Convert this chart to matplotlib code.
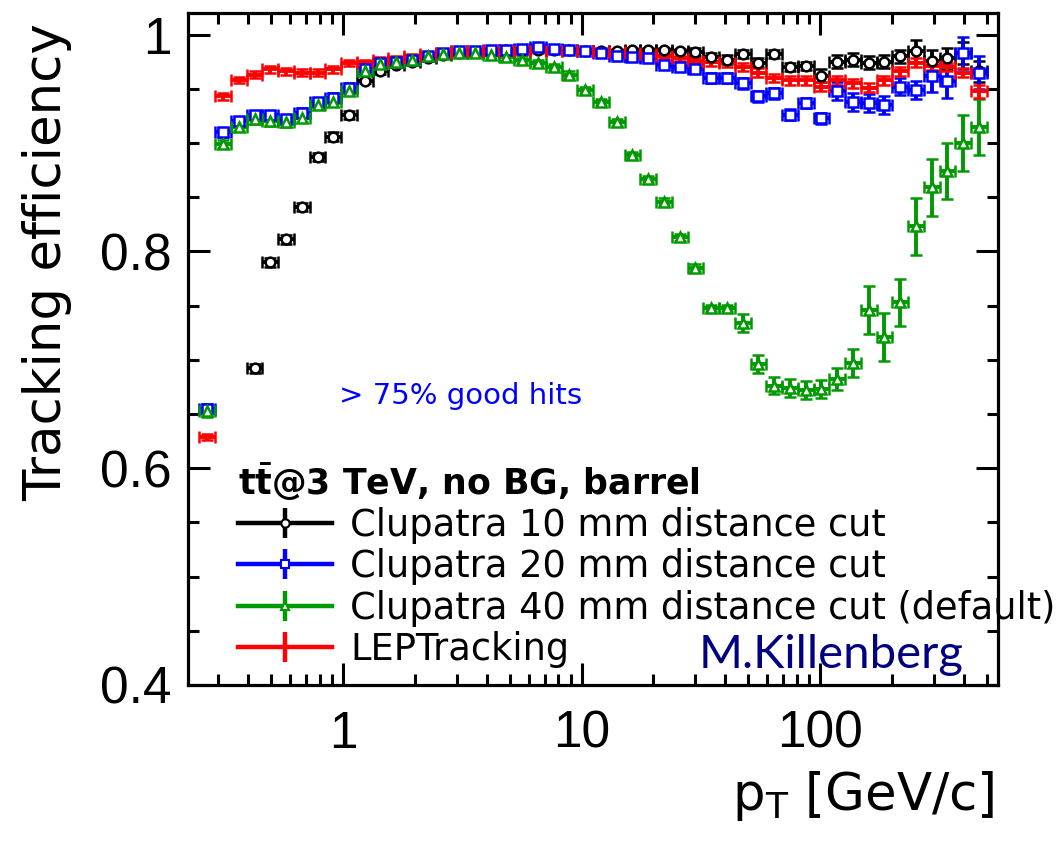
"""
Tracking efficiency vs pT for Clupatra distance cuts and LEPTracking (ROOT-style plot).
"""

import numpy as np
import matplotlib

matplotlib.use("Agg")
import matplotlib.pyplot as plt
from matplotlib.lines import Line2D
from matplotlib.legend_handler import HandlerTuple
from matplotlib.ticker import FixedLocator, LogLocator, NullFormatter, FixedFormatter

plt.rcParams["font.family"] = ["Liberation Sans", "DejaVu Sans"]
plt.rcParams["mathtext.fontset"] = "dejavusans"

# bin centres in pT [GeV/c] (log bins)
PT = [0.270, 0.314, 0.366, 0.426, 0.496, 0.577, 0.672, 0.782, 0.910, 1.059,
      1.233, 1.436, 1.671, 1.946, 2.265, 2.637, 3.070, 3.574, 4.161, 4.844,
      5.639, 6.565, 7.643, 8.898, 10.36, 12.06, 14.04, 16.34, 19.03, 22.15,
      25.79, 30.02, 34.95, 40.69, 47.37, 55.15, 64.21, 74.75, 87.02, 101.3,
      117.9, 137.3, 159.9, 186.1, 216.7, 252.3, 293.7, 341.9, 398.1, 463.4]
HALF_BIN_LOG = 0.033  # half bin width in log10

nan = np.nan
EFF_10MM = [nan, nan, nan, 0.692, 0.790, 0.811, 0.841, 0.887, 0.906, 0.926,
            0.957, 0.966, 0.972, 0.975, 0.978, 0.981, 0.983, 0.984, 0.985, 0.986,
            0.986, 0.986, 0.986, 0.986, 0.985, 0.985, 0.985, 0.986, 0.986, 0.986,
            0.985, 0.984, 0.979, 0.977, 0.982, 0.974, 0.982, 0.970, 0.971, 0.962,
            0.975, 0.977, 0.974, 0.975, 0.980, 0.985, 0.976, 0.978, 0.983, 0.966]
ERR_10MM = [0.004] * 10 + [0.002] * 21 + [0.004] * 8 + [0.006] * 6 + [0.010] * 5

EFF_20MM = [0.655, 0.910, 0.920, 0.926, 0.926, 0.922, 0.928, 0.938, 0.942, 0.951,
            0.968, 0.974, 0.975, 0.977, 0.980, 0.983, 0.985, 0.985, 0.986, 0.986,
            0.987, 0.989, 0.987, 0.986, 0.985, 0.983, 0.980, 0.979, 0.978, 0.972,
            0.970, 0.968, 0.960, 0.960, 0.955, 0.943, 0.946, 0.926, 0.937, 0.923,
            0.948, 0.938, 0.937, 0.935, 0.952, 0.949, 0.962, 0.957, 0.983, 0.965]
ERR_20MM = [0.004] * 10 + [0.002] * 22 + [0.005] * 8 + [0.008] * 6 + [0.015] * 4

EFF_40MM = [0.653, 0.899, 0.915, 0.922, 0.920, 0.919, 0.923, 0.935, 0.938, 0.948,
            0.966, 0.973, 0.975, 0.977, 0.980, 0.982, 0.983, 0.983, 0.981, 0.979,
            0.977, 0.974, 0.970, 0.963, 0.949, 0.938, 0.919, 0.889, 0.867, 0.846,
            0.813, 0.785, 0.748, 0.748, 0.734, 0.696, 0.676, 0.674, 0.672, 0.673,
            0.682, 0.697, 0.746, 0.721, 0.753, 0.823, 0.859, 0.874, 0.900, 0.915]
ERR_40MM = ([0.006] + [0.004] * 9 + [0.003] * 24 + [0.008] * 6 + [0.010, 0.013]
            + [0.022] * 3 + [0.026] * 5)

EFF_LEP = [0.629, 0.943, 0.958, 0.963, 0.968, 0.966, 0.965, 0.965, 0.968, 0.974,
           0.975, 0.977, 0.978, 0.980, 0.982, 0.983, 0.985, 0.985, 0.985, 0.985,
           0.985, 0.985, 0.985, 0.985, 0.985, 0.984, 0.984, 0.983, 0.982, 0.980,
           0.978, 0.976, 0.975, 0.974, 0.970, 0.965, 0.960, 0.958, 0.958, 0.952,
           0.958, 0.955, 0.951, 0.958, 0.966, 0.974, 0.971, 0.970, 0.965, 0.948]
ERR_LEP = [0.003] * 10 + [0.002] * 22 + [0.004] * 17 + [0.006]

SERIES = [
    ("Clupatra 10 mm distance cut", EFF_10MM, ERR_10MM, "black", "o"),
    ("Clupatra 20 mm distance cut", EFF_20MM, ERR_20MM, "#0000ff", "s"),
    ("Clupatra 40 mm distance cut (default)", EFF_40MM, ERR_40MM, "#009900", "^"),
    ("LEPTracking", EFF_LEP, ERR_LEP, "#ff0000", "none"),
]

pt = np.array(PT)
xerr = [pt - pt / 10**HALF_BIN_LOG, pt * 10**HALF_BIN_LOG - pt]

fig = plt.figure(figsize=(10.58, 8.42), dpi=100)
ax = fig.add_axes([0.1777, 0.1865, 0.7656, 0.7981])

handles = []
for label, eff, err, color, marker in SERIES:
    ax.errorbar(
        pt, eff, xerr=xerr, yerr=err,
        fmt=marker, color=color, ecolor=color,
        markersize=7, markerfacecolor="white", markeredgecolor=color,
        markeredgewidth=1.8, elinewidth=2.8, capsize=4.3, capthick=2.8,
    )
    # legend sample: ROOT "lep" style (line + vertical bar + small marker)
    h_line = Line2D([], [], color=color, lw=3.2)
    h_bar = Line2D([], [], color=color, marker="|", markersize=21, mew=3.2, ls="none")
    h_mark = Line2D([], [], color=color, marker=marker if marker != "none" else "+",
                    markersize=6, mfc="white", mew=1.5, ls="none")
    handles.append((h_line, h_bar, h_mark))

ax.set_xscale("log")
ax.set_xlim(0.224, 557)
ax.set_ylim(0.4, 1.02)

# ROOT-like frame and ticks
for sp in ax.spines.values():
    sp.set_linewidth(2.3)
ax.tick_params(which="both", direction="in", top=True, right=True, width=2.2)
ax.tick_params(which="major", length=16, labelsize=37, pad=12)
ax.tick_params(which="minor", length=8)
ax.tick_params(axis="x", which="major", pad=18)
ax.yaxis.set_major_locator(FixedLocator([0.4, 0.6, 0.8, 1.0]))
ax.yaxis.set_major_formatter(FixedFormatter(["0.4", "0.6", "0.8", "1"]))
ax.yaxis.set_minor_locator(FixedLocator(np.arange(0.45, 1.02, 0.05)))
ax.xaxis.set_major_locator(FixedLocator([1, 10, 100]))
ax.xaxis.set_major_formatter(FixedFormatter(["1", "10", "100"]))
ax.xaxis.set_minor_locator(LogLocator(base=10, subs=np.arange(2, 10)))
ax.xaxis.set_minor_formatter(NullFormatter())

ax.set_ylabel("Tracking efficiency", fontsize=37, family="DejaVu Sans", loc="top")
ax.yaxis.set_label_coords(-0.143, 0.985)
ax.set_xlabel(r"p$_{\mathrm{T}}$ [GeV/c]", fontsize=37, family="DejaVu Sans", loc="right")
ax.xaxis.set_label_coords(0.996, -0.125)

ax.text(0.187, 0.43, "> 75% good hits", transform=ax.transAxes,
        fontsize=21, color="#0000ff", ha="left", va="center", family="DejaVu Sans")
ax.text(0.63, 0.045, "M.Killenberg", transform=ax.transAxes,
        fontsize=34, color="#000080", ha="left", va="center", family="Lato")

leg = ax.legend(
    handles=handles,
    labels=[s[0] for s in SERIES],
    handler_map={tuple: HandlerTuple(ndivide=1, pad=0)},
    title=r"$\mathbf{t\bar{t}}$@3 TeV, no BG, barrel",
    loc="upper left", bbox_to_anchor=(0.062, 0.334),
    frameon=False,
    prop={"family": "DejaVu Sans", "size": 26.5},
    title_fontproperties={"family": "DejaVu Sans", "size": 25, "weight": "bold"},
    handlelength=2.55, handletextpad=0.5, labelspacing=0.115,
    borderpad=0, borderaxespad=0, alignment="left",
)

fig.savefig("out.png", dpi=100)
